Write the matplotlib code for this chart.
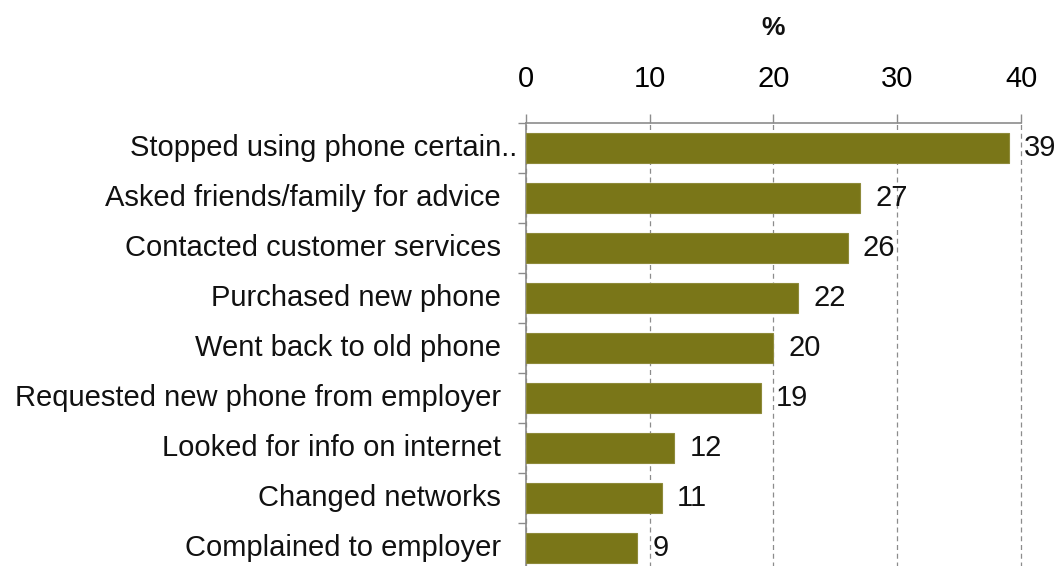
import matplotlib
matplotlib.use("Agg")
import matplotlib.pyplot as plt
import matplotlib.transforms as mtransforms

plt.rcParams['font.family'] = ['Liberation Sans', 'DejaVu Sans']

categories = [
    "Stopped using phone certain..",
    "Asked friends/family for advice",
    "Contacted customer services",
    "Purchased new phone",
    "Went back to old phone",
    "Requested new phone from employer",
    "Looked for info on internet",
    "Changed networks",
    "Complained to employer",
]
values = [39, 27, 26, 22, 20, 19, 12, 11, 9]
x_ticks = [0, 10, 20, 30, 40]
axis_title = "%"

BAR = "#7A7618"
GRID = "#8C8C8C"
FS = 21

fig = plt.figure(figsize=(10.62, 5.66), dpi=100)
ax = fig.add_axes([0.495, -0.01325, 0.4664, 0.7968])

pos = list(range(len(categories)))
ax.barh(pos, values, height=0.6, color=BAR, edgecolor="#8E8A3A", linewidth=0.8, zorder=3)

ax.set_xlim(0, 40)
ax.set_ylim(len(categories) - 0.5, -0.5)

ax.xaxis.tick_top()
ax.set_xticks(x_ticks)
ax.set_xticklabels([str(t) for t in x_ticks], fontsize=FS)
ax.tick_params(axis='x', direction='out', length=6.5, width=1, color=GRID, pad=15)
ax.xaxis.grid(True, linestyle=(0, (4, 3)), color=GRID, linewidth=0.9, zorder=0)
for gl in ax.get_xgridlines():
    gl.set_clip_on(False)

# category boundaries carry the y tick marks; labels are drawn as text
ax.set_yticks([p - 0.5 for p in pos] + [len(categories) - 0.5])
ax.set_yticklabels([])
ax.tick_params(axis='y', direction='out', length=6, width=1, color=GRID)

for side in ("right", "bottom"):
    ax.spines[side].set_visible(False)
for side in ("top", "left"):
    ax.spines[side].set_color(GRID)
    ax.spines[side].set_linewidth(1.2)

trans = mtransforms.blended_transform_factory(ax.transAxes, ax.transData)
for i, (cat, val) in enumerate(zip(categories, values)):
    dx = -6 if i == 0 else -18
    ax.annotate(cat, xy=(0, i), xycoords=trans, xytext=(dx, 0), textcoords="offset points",
                ha="right", va="center", fontsize=FS, color="#111111")
    ax.annotate(str(val), xy=(val, i), xytext=(11, 0), textcoords="offset points",
                ha="left", va="center", fontsize=FS, color="#111111")

fig.text((525.7 + 1021) / 2 / 1062, 1 - 28 / 566, axis_title, ha="center", va="center",
         fontsize=19, fontweight="bold", color="#111111")

fig.savefig("out.png", dpi=100)
